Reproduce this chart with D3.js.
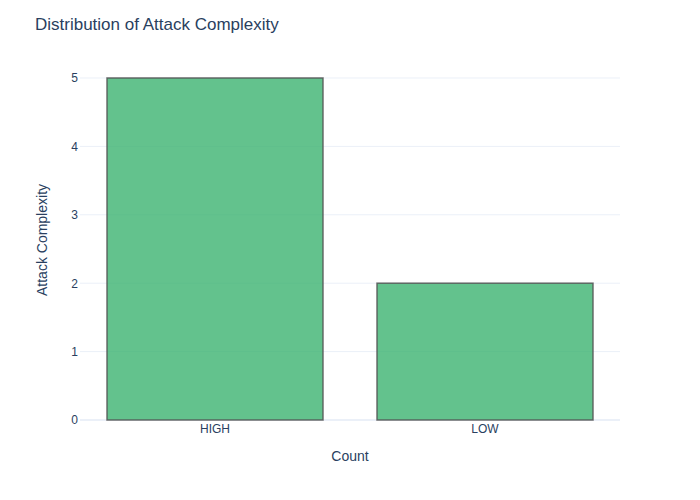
<!DOCTYPE html>
<html><head><meta charset="utf-8">
<script src="https://d3js.org/d3.v7.min.js"></script>
<style>body{margin:0;background:#fff;} svg{display:block;font-family:Arial,"Liberation Sans",sans-serif;}</style>
</head><body>
<svg id="c" width="700" height="500"></svg>
<script>
const categories = ["HIGH", "LOW"];
const counts = [5, 2];
const yTicks = [0, 1, 2, 3, 4, 5];

const W = 700, H = 500, m = {l: 80, r: 80, t: 60, b: 80};
const svg = d3.select("#c");
const pw = W - m.l - m.r, ph = H - m.t - m.b;
const g = svg.append("g").attr("transform", `translate(${m.l},${m.t})`);
const FF = "Arial,'Liberation Sans',sans-serif";

const x = d3.scaleBand().domain(categories).range([0, pw]).paddingInner(0.2).paddingOuter(0.1);
const y = d3.scaleLinear().domain([0, 5 * 1.0526]).range([ph, 0]);

// grid
g.selectAll(".grid").data(yTicks.filter(d => d !== 0)).join("line")
  .attr("x1", 0).attr("x2", pw).attr("y1", d => y(d)).attr("y2", d => y(d))
  .attr("stroke", "#ebf0f8").attr("stroke-width", 1);
g.append("line").attr("x1", 0).attr("x2", pw).attr("y1", y(0)).attr("y2", y(0))
  .attr("stroke", "#ebf0f8").attr("stroke-width", 2);

// bars
g.selectAll(".bar").data(categories).join("rect")
  .attr("x", d => x(d)).attr("width", x.bandwidth())
  .attr("y", (d, i) => y(counts[i])).attr("height", (d, i) => y(0) - y(counts[i]))
  .attr("fill", "rgb(60,179,113)").attr("fill-opacity", 0.8)
  .attr("stroke", "#555").attr("stroke-opacity", 0.85).attr("stroke-width", 1.5);

// axes
const ya = d3.axisLeft(y).tickValues(yTicks).tickSize(0).tickPadding(2).tickFormat(d3.format("d"));
const yg = g.append("g").call(ya);
yg.select(".domain").remove();
yg.selectAll("text").attr("font-size", 12).attr("fill", "#2a3f5f").style("font-family", FF);

const xa = d3.axisBottom(x).tickSize(0).tickPadding(4);
const xg = g.append("g").attr("transform", `translate(0,${ph})`).call(xa);
xg.select(".domain").remove();
xg.selectAll("text").attr("font-size", 12).attr("fill", "#2a3f5f").style("font-family", FF);

// titles
svg.append("text").attr("x", 35).attr("y", 30).text("Distribution of Attack Complexity")
  .attr("font-size", 17).attr("fill", "#2a3f5f");
svg.append("text").attr("x", m.l + pw / 2).attr("y", 461).attr("text-anchor", "middle")
  .text("Count").attr("font-size", 14).attr("fill", "#2a3f5f");
svg.append("text").attr("transform", `translate(47,${m.t + ph / 2}) rotate(-90)`).attr("text-anchor", "middle")
  .text("Attack Complexity").attr("font-size", 14).attr("fill", "#2a3f5f");
</script>
</body></html>
